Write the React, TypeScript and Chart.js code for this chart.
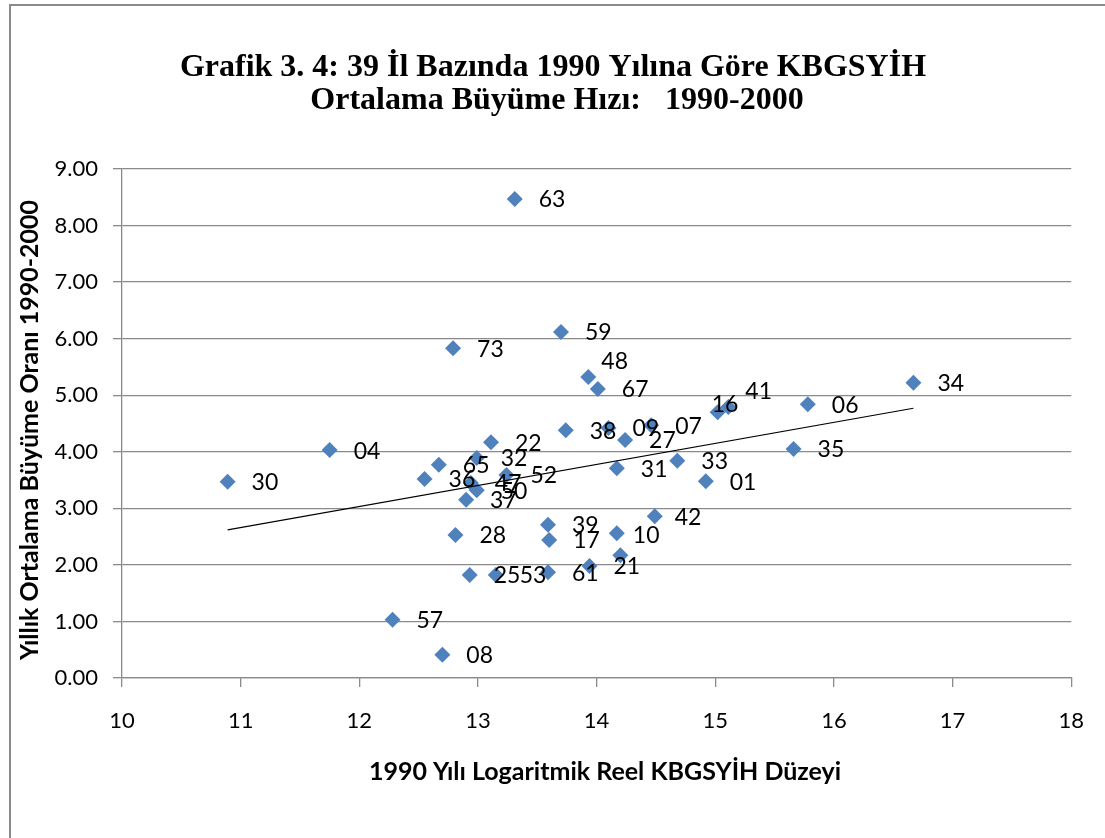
import React, { useEffect, useRef } from "react";
import { Chart, registerables } from "chart.js";

Chart.register(...registerables);

// Province codes (data labels)
const provinceLabels = [
  "63", "59", "73", "48", "67", "16", "41", "06", "34", "04",
  "38", "09", "27", "07", "22", "65", "32", "36", "47", "52",
  "50", "37", "30", "31", "33", "01", "35", "42", "28", "39",
  "17", "10", "", "25", "53", "61", "21", "57", "08",
];

// 1990 log real GDP per capita level
const logGdp1990 = [
  13.31, 13.70, 12.79, 13.93, 14.01, 15.02, 15.11, 15.78, 16.67, 11.75,
  13.74, 14.10, 14.24, 14.46, 13.11, 12.67, 12.99, 12.55, 12.94, 13.24,
  12.99, 12.90, 10.89, 14.17, 14.68, 14.92, 15.66, 14.49, 12.81, 13.59,
  13.60, 14.17, 14.20, 12.93, 13.15, 13.59, 13.94, 12.28, 12.70,
];

// Average annual growth rate 1990-2000
const growthRate = [
  8.47, 6.12, 5.83, 5.32, 5.11, 4.70, 4.79, 4.84, 5.22, 4.03,
  4.38, 4.42, 4.21, 4.47, 4.17, 3.77, 3.89, 3.52, 3.45, 3.59,
  3.32, 3.15, 3.47, 3.71, 3.84, 3.48, 4.05, 2.86, 2.53, 2.71,
  2.44, 2.56, 2.17, 1.82, 1.82, 1.87, 1.98, 1.03, 0.41,
];

// Linear trend line end points
const trendX = [10.89, 16.67];
const trendY = [2.62, 4.77];

const titleLines = [
  "Grafik 3. 4: 39 İl Bazında 1990 Yılına Göre KBGSYİH",
  "Ortalama Büyüme Hızı:   1990-2000",
];
const xAxisTitle = "1990 Yılı Logaritmik Reel KBGSYİH Düzeyi";
const yAxisTitle = "Yıllık Ortalama Büyüme Oranı 1990-2000";

const W = 1105;
const H = 838;
const GRID = "#8a8a8a";
const FRAME = "#8a8a8a";
const MARKER = "#4F81BD";
const SANS = "Lato, 'Open Sans', sans-serif";
const SERIF = "'Liberation Serif', 'Times New Roman', serif";

// label placement tweaks (style only): [dx, dy] relative to default right position
const labelNudge: Record<string, [number, number]> = {
  "48": [-11, -17],
  "41": [-7, -17],
  "16": [-30, -9],
  "10": [-8, 1],
  "42": [-4, 0],
};

export default function App() {
  const ref = useRef<HTMLCanvasElement | null>(null);

  useEffect(() => {
    const canvas = ref.current;
    if (!canvas) return;

    const framePlugin = {
      id: "frame",
      beforeDraw(chart: any) {
        const ctx = chart.ctx;
        ctx.save();
        ctx.fillStyle = "#fff";
        ctx.fillRect(0, 0, W, H);
        ctx.fillStyle = FRAME;
        ctx.fillRect(9, 4, W - 9, 2);
        ctx.fillRect(9, 4, 2, H - 4);
        ctx.restore();
      },
    };

    const labelPlugin = {
      id: "pointLabels",
      afterDatasetsDraw(chart: any) {
        const meta = chart.getDatasetMeta(0);
        const ctx = chart.ctx;
        ctx.save();
        ctx.font = "23px " + SANS;
        ctx.fillStyle = "#000";
        ctx.textAlign = "left";
        ctx.textBaseline = "middle";
        meta.data.forEach((el: any, i: number) => {
          const t = provinceLabels[i];
          if (!t) return;
          const n = labelNudge[t] || [0, 0];
          ctx.fillText(t, el.x + 24 + n[0], el.y + 1 + n[1]);
        });
        ctx.restore();
      },
    };

    const textPlugin = {
      id: "titles",
      afterDraw(chart: any) {
        const ctx = chart.ctx;
        ctx.save();
        ctx.fillStyle = "#000";
        ctx.textAlign = "center";
        ctx.textBaseline = "middle";
        ctx.font = "bold 32px " + SERIF;
        ctx.fillText(titleLines[0], 553, 68);
        ctx.fillText(titleLines[1], 557, 101);
        ctx.font = "bold 25px " + SANS;
        ctx.fillText(xAxisTitle, 605, 772);
        ctx.translate(30, 430);
        ctx.rotate(-Math.PI / 2);
        ctx.fillText(yAxisTitle, 0, 0);
        ctx.restore();
      },
    };

    const chart = new Chart(canvas, {
      type: "scatter",
      data: {
        datasets: [
          {
            label: "İller",
            data: logGdp1990.map((x, i) => ({ x, y: growthRate[i] })),
            pointStyle: "rectRot",
            pointRadius: 8,
            pointHoverRadius: 8,
            backgroundColor: MARKER,
            borderColor: MARKER,
            borderWidth: 0,
            order: 1,
          },
          {
            type: "line",
            label: "Trend",
            data: trendX.map((x, i) => ({ x, y: trendY[i] })),
            showLine: true,
            borderColor: "#000",
            borderWidth: 1.2,
            pointRadius: 0,
            fill: false,
            order: 0,
          } as any,
        ],
      },
      options: {
        animation: false,
        responsive: false,
        maintainAspectRatio: false,
        layout: { padding: { left: 0, right: 30, top: 169, bottom: 50 } },
        plugins: {
          legend: { display: false },
          tooltip: { enabled: false },
          title: { display: false },
        },
        scales: {
          x: {
            type: "linear",
            min: 10,
            max: 18,
            afterFit: (s: any) => { s.height = 110; },
            ticks: {
              stepSize: 1,
              color: "#000",
              font: { family: SANS, size: 22 },
              padding: 21,
              callback: (v: any) => String(v),
            },
            grid: { drawOnChartArea: false, drawTicks: true, tickLength: 9, color: GRID, lineWidth: 1.3 },
            border: { display: true, color: GRID, width: 1.3 },
            title: { display: false },
          },
          y: {
            type: "linear",
            min: 0,
            max: 9,
            afterFit: (s: any) => { s.width = 122; },
            ticks: {
              stepSize: 1,
              color: "#000",
              font: { family: SANS, size: 22 },
              padding: 15,
              callback: (v: any) => Number(v).toFixed(2),
            },
            grid: { drawOnChartArea: true, drawTicks: true, tickLength: 9, color: GRID, lineWidth: 1.3 },
            border: { display: true, color: GRID, width: 1.3 },
            title: { display: false },
          },
        },
      },
      plugins: [framePlugin, labelPlugin, textPlugin],
    } as any);

    return () => chart.destroy();
  }, []);

  return (
    <div style={{ position: "fixed", left: 0, top: 0, width: W, height: H, background: "#fff" }}>
      <canvas ref={ref} width={W} height={H} style={{ display: "block" }} />
    </div>
  );
}
